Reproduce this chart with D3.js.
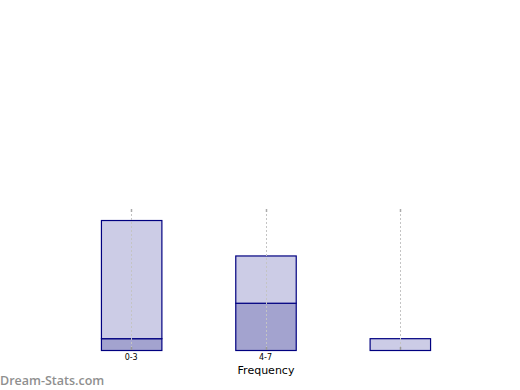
<!DOCTYPE html>
<html><head><meta charset="utf-8">
<script src="https://cdn.jsdelivr.net/npm/d3@7"></script>
<style>body{margin:0;background:#fff;}svg{display:block;}</style>
</head><body>
<svg id="c" width="520" height="390"></svg>
<script>
const categories = ["0-3", "4-7", "8-11"];
const tickLabels = ["0-3", "4-7", ""];
const darkValues = [1, 4, 0];
const lightValues = [10, 4, 1];
const yMax = 12;

const svg = d3.select("#c");
const x = d3.scaleBand().domain(categories).range([64, 467]).paddingInner(0.55).paddingOuter(0.275);
const y = d3.scaleLinear().domain([0, yMax]).range([350, 208.2]);

const stackData = categories.map((c, i) => ({cat: c, dark: darkValues[i], light: lightValues[i]}));
const series = d3.stack().keys(["dark", "light"])(stackData);
const fills = {dark: "#a3a3cf", light: "#ccccE6"};

// bars
series.forEach(s => {
  svg.append("g").selectAll("rect").data(s).join("rect")
    .attr("x", d => x(d.data.cat) + 0.5)
    .attr("y", d => y(d[1]) + 0.5)
    .attr("width", x.bandwidth())
    .attr("height", d => Math.max(0, y(d[0]) - y(d[1])))
    .attr("fill", fills[s.key])
    .attr("stroke", d => (d[1] - d[0]) > 0 ? "#000080" : "none")
    .attr("stroke-width", 1.2);
});

// dotted gridlines at category centers
const cx = c => Math.round(x(c) + x.bandwidth() / 2) + 0.5;
svg.append("g").selectAll("line").data(categories).join("line")
  .attr("x1", cx).attr("x2", cx)
  .attr("y1", 210).attr("y2", y(0))
  .attr("stroke", "#c4c4c4").attr("stroke-width", 1).attr("stroke-dasharray", "2,2");
// small ticks top and bottom
svg.append("g").selectAll("line").data(categories).join("line")
  .attr("x1", cx).attr("x2", cx).attr("y1", 209).attr("y2", 212)
  .attr("stroke", "#aaa").attr("stroke-width", 1.5);
svg.append("g").selectAll("line").data(categories).join("line")
  .attr("x1", cx).attr("x2", cx).attr("y1", y(0) - 3).attr("y2", y(0))
  .attr("stroke", "#999").attr("stroke-width", 1.5);

// x axis labels
const xAxis = d3.axisBottom(x).tickSize(0).tickPadding(4).tickFormat((d, i) => tickLabels[i]);
const ax = svg.append("g").attr("transform", "translate(0,350)").call(xAxis);
ax.select(".domain").remove();
ax.selectAll("text").attr("font-family", "DejaVu Sans, sans-serif").attr("font-size", 8).attr("fill", "#000");

svg.append("text").attr("x", 266).attr("y", 374).attr("text-anchor", "middle")
  .attr("font-family", "DejaVu Sans, sans-serif").attr("font-size", 11).attr("fill", "#000")
  .text("Frequency");

svg.append("text").attr("x", 0).attr("y", 385)
  .attr("font-family", "Open Sans, sans-serif").attr("font-size", 12.5).attr("font-weight", 600).attr("fill", "#8f8f8f")
  .text("Dream-Stats.com");
</script>
</body></html>
